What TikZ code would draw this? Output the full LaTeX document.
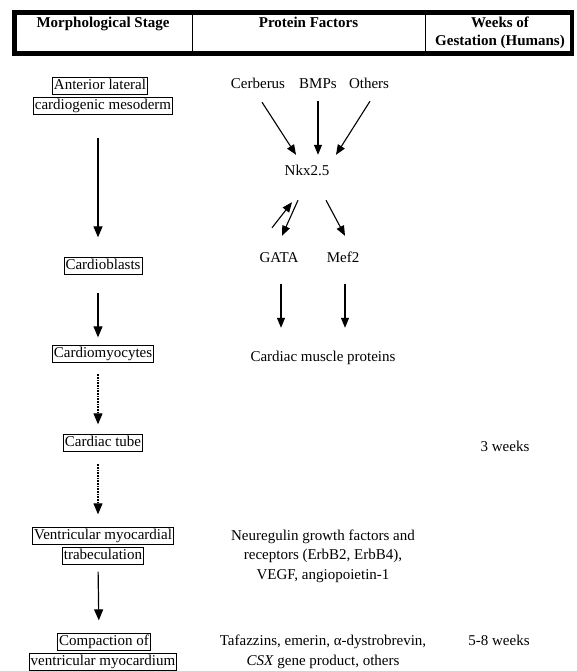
\documentclass[tikz,border=0pt]{standalone}
\usepackage{fontspec}
\setmainfont{Liberation Serif}
\usetikzlibrary{arrows.meta}
\begin{document}
\begin{tikzpicture}[x=1pt,y=-1pt,
  every node/.style={font=\fontsize{15}{19.5}\selectfont, inner sep=1pt, text height=11pt, text depth=3.5pt},
  stage/.style={draw, line width=0.8pt, inner xsep=1.5pt},
  hdr/.style={font=\fontsize{15}{20}\selectfont\bfseries},
  multi/.style={align=center, text height=, text depth=},
  arr/.style={line width=1.2pt, -{Triangle[length=11pt,width=9pt]}},
  parr/.style={line width=1.1pt, -{Triangle[length=10pt,width=8pt]}},
  darr/.style={arr, dash pattern=on 1pt off 0.6pt}
]
\useasboundingbox (0,0) rectangle (576,671);
% header
\draw[line width=4.5pt] (14.5,12.5) rectangle (572,53.5);
\draw[line width=0.9pt] (192,12.5) -- (192,53.5);
\draw[line width=0.9pt] (425,12.5) -- (425,53.5);
\node[hdr] (h1) at (103,24) {Morphological Stage};
\node[hdr] (h2) at (308.5,24) {Protein Factors};
\node[hdr] (h3a) at (500,24) {Weeks of};
\node[hdr] (h3b) at (500,42) {Gestation (Humans)};
% stages
\node[stage] (s1a) at (100,86) {Anterior lateral};
\node[stage] (s1b) at (103,106) {cardiogenic mesoderm};
\node[stage] (s2) at (103,266) {Cardioblasts};
\node[stage] (s3) at (103,354) {Cardiomyocytes};
\node[stage] (s4) at (103,443) {Cardiac tube};
\node[stage] (s5a) at (103,536) {Ventricular myocardial};
\node[stage] (s5b) at (103,556) {trabeculation};
\node[stage] (s6a) at (104,642) {Compaction of};
\node[stage] (s6b) at (103,662) {ventricular myocardium};
\draw[arr, shorten <=23pt, shorten >=20pt] ([xshift=-5pt]s1b.south) -- ([xshift=-5pt]s2.north);
\draw[arr, shorten <=18pt, shorten >=8pt] ([xshift=-5pt]s2.south) -- ([xshift=-5pt]s3.north);
\draw[darr, shorten <=11pt, shorten >=10pt] ([xshift=-5pt]s3.south) -- ([xshift=-5pt]s4.north);
\draw[darr, shorten <=12pt, shorten >=13pt] ([xshift=-5pt]s4.south) -- ([xshift=-5pt]s5a.north);
\draw[arr, shorten <=7pt, shorten >=13pt] ([xshift=-5pt]s5b.south) -- ([xshift=-5pt]s6a.north);
% protein factors
\node (cer) at (258,85) {Cerberus};
\node (bmp) at (318,85) {BMPs};
\node (oth) at (369,85) {Others};
\node (nkx) at (307,172) {Nkx2.5};
\node (gata) at (279,259) {GATA};
\node (mef) at (343,259) {Mef2};
\node (cmp) at (323,358) {Cardiac muscle proteins};
\draw[parr] ([shift={(4,8.75)}]cer.south) -- ([shift={(-11,-8.75)}]nkx.north);
\draw[parr] ([shift={(0,7.75)}]bmp.south) -- ([shift={(11,-8.75)}]nkx.north);
\draw[parr] ([shift={(1,7.75)}]oth.south) -- ([shift={(29,-8.75)}]nkx.north);
\draw[parr] ([shift={(-7,-22.75)}]gata.north) -- ([shift={(-15,21.75)}]nkx.south);
\draw[parr] ([shift={(-9,19.75)}]nkx.south) -- ([shift={(3,-14.75)}]gata.north);
\draw[parr] ([shift={(19,19.75)}]nkx.south) -- ([shift={(2,-14.75)}]mef.north);
\draw[parr] ([shift={(2,16.75)}]gata.south) -- ([shift={(-42,-21.75)}]cmp.north);
\draw[parr] ([shift={(2,16.75)}]mef.south) -- ([shift={(22,-21.75)}]cmp.north);
\node[multi] (neu) at (323,556) {Neuregulin growth factors and\\receptors (ErbB2, ErbB4),\\VEGF, angiopoietin-1};
\node[multi] (taf) at (323,652) {Tafazzins, emerin, α-dystrobrevin,\\\textit{CSX} gene product, others};
% weeks
\node (w3) at (505,448) {3 weeks};
\node (w58) at (499,642) {5-8 weeks};
\end{tikzpicture}
\end{document}
